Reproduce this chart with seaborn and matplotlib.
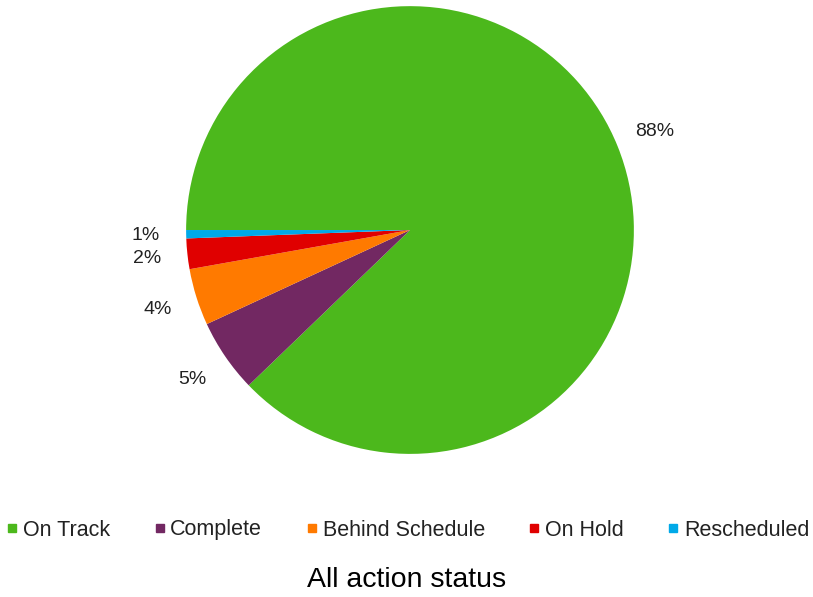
import matplotlib
matplotlib.use("Agg")
import matplotlib.pyplot as plt
from matplotlib.lines import Line2D
import seaborn as sns

categories = ["On Track", "Complete", "Behind Schedule", "On Hold", "Rescheduled"]
values = [87.8, 5.3, 4.1, 2.2, 0.6]
colors = ["#4CB81C", "#722862", "#FF7A00", "#E00000", "#00A9E8"]
title = "All action status"

sns.set_theme(style="white")
plt.rcParams["font.family"] = ["Liberation Sans", "DejaVu Sans"]

fig = plt.figure(figsize=(8.13, 5.97), dpi=100)
ax = fig.add_axes([0.2288, 0.2397, 0.551, 0.750])
wedges, texts, autotexts = ax.pie(
    values, colors=sns.color_palette(colors), startangle=180, counterclock=False,
    autopct=lambda p: f"{p:.0f}%", pctdistance=1.18, radius=1.0,
    wedgeprops=dict(linewidth=0), textprops=dict(fontsize=14, color="#222222"))
ax.set_xlim(-1, 1)
ax.set_ylim(-1, 1)
ax.set_aspect("equal")

handles = [Line2D([0], [0], marker="s", linestyle="none", markersize=6,
                  markerfacecolor=c, markeredgecolor=c) for c in colors]
fig.legend(handles, categories, loc="center", bbox_to_anchor=(0.5, 1 - 530 / 597),
           ncol=5, frameon=False, fontsize=15.5, handletextpad=0.1,
           columnspacing=1.9, handlelength=0.8, labelcolor="#222222")
fig.text(0.5, 1 - 580 / 597, title, ha="center", va="center", fontsize=20.5, color="black")

fig.savefig("out.png", dpi=100)
